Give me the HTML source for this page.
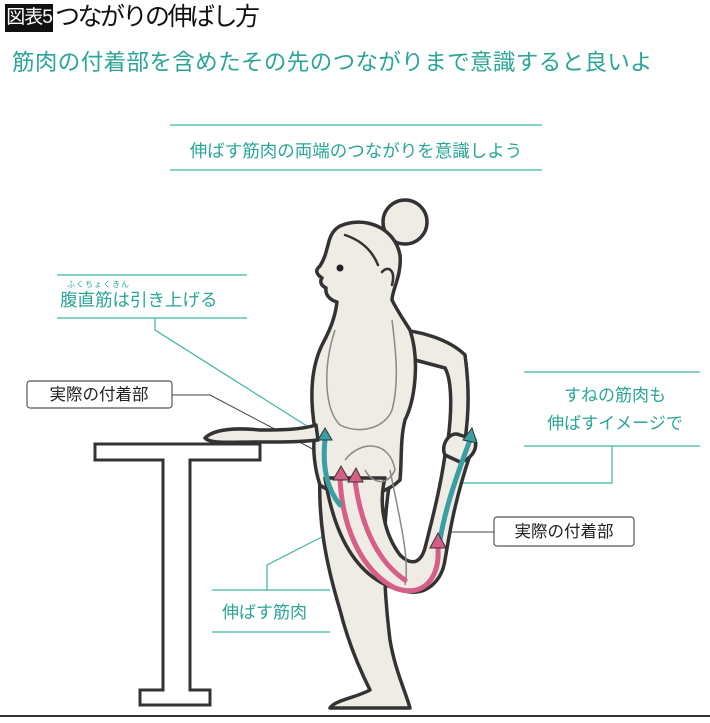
<!DOCTYPE html>
<html><head><meta charset="utf-8"><style>
body{margin:0;width:710px;height:723px;background:#fff;overflow:hidden;position:relative;font-family:"Liberation Sans","Noto Sans CJK JP",sans-serif}
.t{position:absolute;white-space:nowrap}
</style></head><body>
<div class="t" style="left:5px;top:4px;height:28px;width:48px;background:#111;color:#fff;font-size:19px;line-height:28px;text-align:center;letter-spacing:-1px">図表5</div>
<div class="t" style="left:55px;top:1px;font-size:25px;line-height:32px;color:#111;letter-spacing:-2.5px">つながりの伸ばし方</div>
<div class="t" style="left:12px;top:47px;font-size:22.5px;line-height:32px;color:#2aa597;letter-spacing:0.4px">筋肉の付着部を含めたその先のつながりまで意識すると良いよ</div>
<svg width="710" height="723" style="position:absolute;left:0;top:0" font-family="Liberation Sans,Noto Sans CJK JP,sans-serif">
<g stroke="#3fb3a6" stroke-width="1.2" fill="none">
<line x1="170" y1="125" x2="542" y2="125"/><line x1="170" y1="170" x2="542" y2="170"/>
<line x1="57" y1="275" x2="247" y2="275"/><line x1="57" y1="318" x2="247" y2="318"/>
<polyline points="155,318 155,330 310,428"/>
<line x1="524" y1="372" x2="700" y2="372"/><line x1="524" y1="446" x2="700" y2="446"/>
<polyline points="612,446 612,483 455,483"/>
<line x1="212" y1="590" x2="330" y2="590"/><line x1="212" y1="632" x2="330" y2="632"/>
<polyline points="267,590 267,565 355,520"/>
</g>
<g stroke="#444" stroke-width="1" fill="none">
<polyline points="172,395 210,395 343,465"/>
<line x1="494" y1="532" x2="440" y2="532"/>
</g>
<g fill="#fff" stroke="#333" stroke-width="3">
<path d="M95,444 H260 V460 H190 V690 H210 V705 H140 V690 H163 V460 H95 Z"/>
</g>
<line x1="0" y1="716" x2="710" y2="716" stroke="#333" stroke-width="2"/>
<g fill="#efebe5" stroke="#333" stroke-width="3.5" stroke-linejoin="round">
<circle cx="405" cy="222" r="22"/>
<path d="M395,330 C420,330 450,340 465,355 C470,390 468,420 465,440 L448,440 C452,410 452,380 445,368 L415,360 Z"/>
<path d="M320,470 C318,520 325,560 340,610 C350,650 365,680 370,690 C355,698 335,700 330,708 H410 C405,690 395,670 390,640 C385,600 380,540 390,480 Z"/>
<path d="M340,226 C365,215 395,228 400,255 C402,275 392,290 392,300 C398,312 405,322 410,330 C420,360 415,400 405,420 C400,440 402,460 400,480 C380,500 340,500 320,485 C315,470 312,450 315,430 C310,400 310,370 322,345 C330,330 335,318 337,302 C330,300 325,295 326,288 C320,285 320,281 322,278 C316,274 315,270 320,266 C325,258 326,252 328,245 C330,236 333,230 340,226 Z"/>
<path d="M316,425 C300,430 280,430 260,430 C240,428 215,428 205,438 C210,444 230,442 260,442 C285,442 300,442 318,440 Z"/>
<path d="M325,478 C335,540 360,585 410,592 C428,594 442,580 445,560 C450,530 455,500 470,455 C475,445 465,438 455,442 L445,455 C440,490 432,520 425,548 C420,565 410,565 400,555 C385,535 378,505 385,478 Z"/>
<path d="M445,455 C440,445 450,430 460,435 L475,440 C478,450 470,460 460,462 Z"/>
</g>
<g fill="none" stroke="#888" stroke-width="1.5">
<path d="M335,330 C322,370 325,410 340,425 C360,435 385,428 392,410 C400,380 395,345 392,320"/>
<path d="M345,460 C360,440 390,440 395,470 C385,490 370,480 365,470"/>
<path d="M390,470 C400,520 410,560 405,585"/>
</g>
<g fill="none" stroke="#333" stroke-width="2.5" stroke-linecap="round">
<path d="M345,235 C360,240 372,250 378,265"/>
<path d="M382,272 C388,265 396,270 392,285"/>
</g>
<circle cx="340" cy="268" r="3.5" fill="#222"/>
<g fill="none" stroke-width="5" stroke-linecap="round">
<path d="M340,478 C342,525 360,570 395,588 C422,598 440,580 438,548" stroke="#d75e86"/>
<path d="M355,480 C360,520 375,560 405,580" stroke="#d75e86"/>
<path d="M325,440 C322,470 328,490 340,505" stroke="#3a9fa3"/>
<path d="M440,540 C445,510 455,480 470,440" stroke="#3a9fa3"/>
</g>
<g fill="#3a9fa3" stroke="#333" stroke-width="1"><path d="M318,440 L325,428 L332,440 Z"/><path d="M463,440 L472,428 L477,443 Z"/></g>
<g fill="#d75e86" stroke="#333" stroke-width="1"><path d="M333,480 L341,466 L349,480 Z"/><path d="M348,482 L356,468 L363,482 Z"/><path d="M430,548 L438,533 L446,548 Z"/></g>
<text x="356" y="157" font-size="17.5" fill="#2aa597" text-anchor="middle">伸ばす筋肉の両端のつながりを意識しよう</text>
<text x="67" y="287" font-size="8" fill="#2aa597" letter-spacing="1">ふくちょくきん</text>
<text x="60" y="306" font-size="17.5" fill="#2aa597">腹直筋は引き上げる</text>
<text x="615" y="401" font-size="17" fill="#2aa597" text-anchor="middle">すねの筋肉も</text>
<text x="615" y="429" font-size="17" fill="#2aa597" text-anchor="middle">伸ばすイメージで</text>
<text x="222" y="618" font-size="17" fill="#2aa597">伸ばす筋肉</text>
<rect x="27" y="381" width="145" height="27" rx="3" fill="#fff" stroke="#555" stroke-width="1.2"/>
<text x="99" y="400" font-size="16.5" fill="#222" text-anchor="middle">実際の付着部</text>
<rect x="494" y="517" width="140" height="29" rx="3" fill="#fff" stroke="#555" stroke-width="1.2"/>
<text x="564" y="537" font-size="16.5" fill="#222" text-anchor="middle">実際の付着部</text>
</svg>
</body></html>
